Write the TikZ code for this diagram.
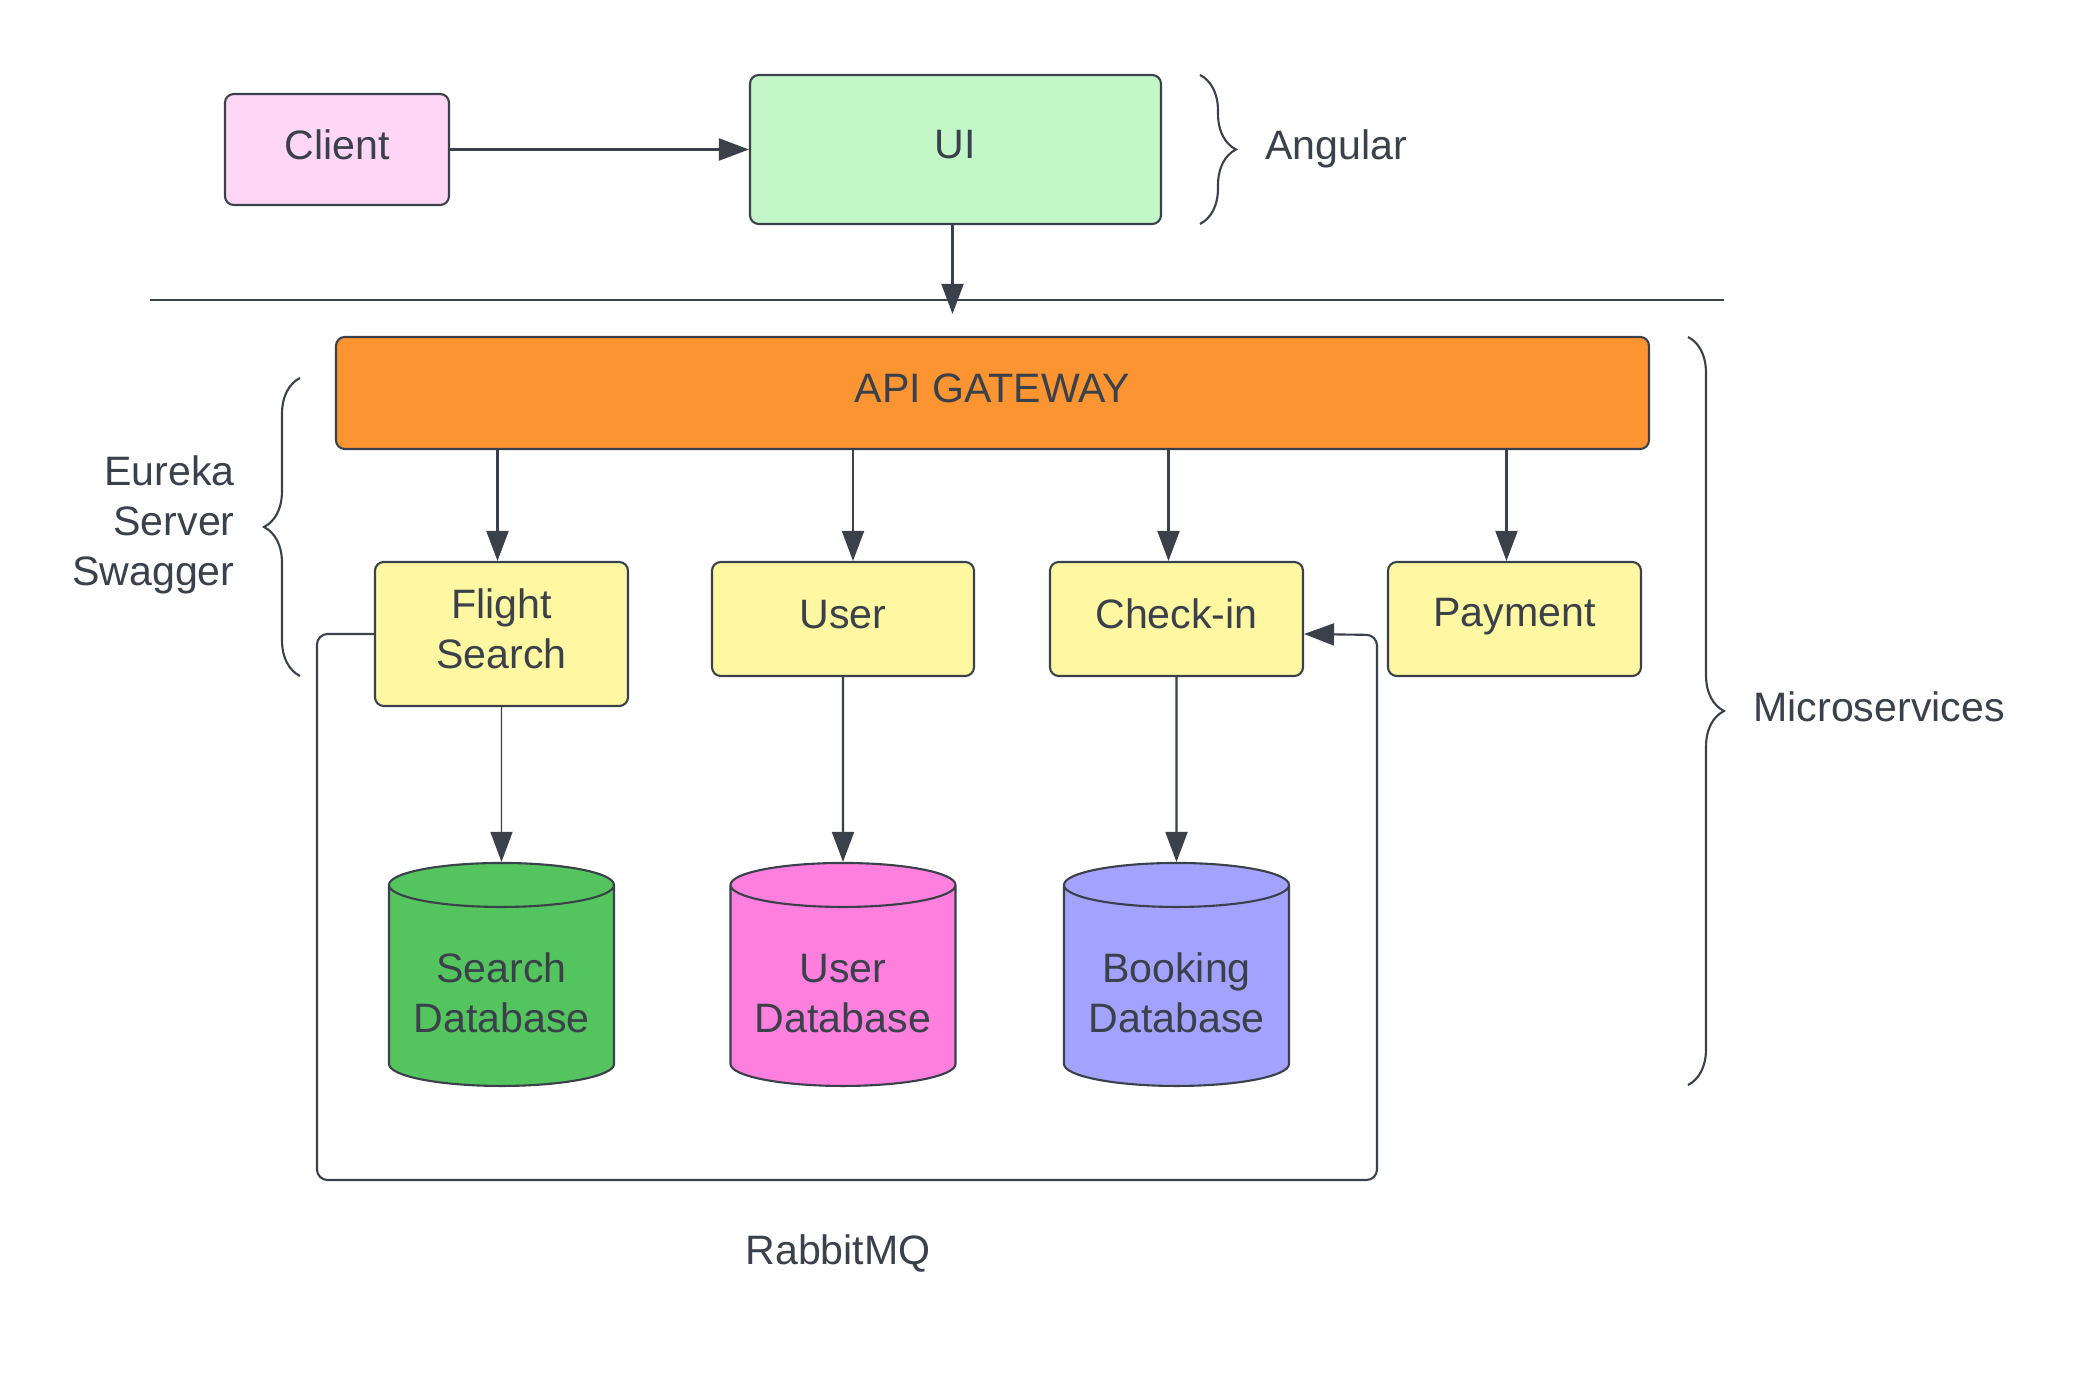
\documentclass[tikz,border=0pt]{standalone}
\usepackage{fontspec}
\setmainfont{Liberation Sans}
\usepackage{xcolor}
\usetikzlibrary{calc,positioning,arrows.meta,shapes.geometric,decorations.pathreplacing}

\definecolor{ink}{HTML}{3A414A}
\definecolor{clientpink}{HTML}{FFD6F5}
\definecolor{uigreen}{HTML}{C3F7C8}
\definecolor{gworange}{HTML}{FC9432}
\definecolor{svcyellow}{HTML}{FFF7A1}
\definecolor{dbgreen}{HTML}{54C45E}
\definecolor{dbpink}{HTML}{FF7FDE}
\definecolor{dbblue}{HTML}{A3A3FF}

\begin{document}
\begin{tikzpicture}[font=\fontsize{11.7}{14.2}\selectfont, text=ink]
\tikzstyle{box}=[draw=ink, rounded corners=2.5pt, line width=0.6pt, align=center, inner sep=0pt, text depth=0.1cm]
\tikzstyle{svc}=[box, fill=svcyellow, minimum width=2.53cm, minimum height=1.14cm]
\tikzstyle{db}=[draw=ink, cylinder, shape border rotate=90, aspect=0.25, minimum width=2.25cm, minimum height=2.23cm, line width=0.6pt, align=center, inner sep=0pt, text height=0.93cm]
\tikzstyle{arr}=[draw=ink, line width=0.6pt, -{Triangle[length=0.3cm,width=0.22cm]}]
\tikzstyle{brc}=[draw=ink, line width=0.6pt, decorate, decoration={brace, amplitude=0.36cm}]

\useasboundingbox (0,0) rectangle (21,13.88);

% top layer
\node[box, fill=clientpink, minimum width=2.24cm, minimum height=1.11cm] (client) at (3.37,12.385) {Client};
\node[box, fill=uigreen, minimum width=4.11cm, minimum height=1.49cm] (ui) at (9.555,12.385) {UI};
\draw[arr] (client) -- (ui);
\draw[brc] (12.0,13.13) -- (12.0,11.64);
\node[anchor=west] (angular) at (12.53,12.39) {Angular};

% separator
\coordinate (sepL) at (1.50,10.88);
\coordinate (sepR) at (17.24,10.88);
\draw[ink, line width=0.6pt] (sepL) -- (sepR);

% gateway and services
\node[box, fill=gworange, minimum width=13.13cm, minimum height=1.12cm] (gw) at (9.925,9.95) {API GATEWAY};
\draw[arr, shorten >=0.22cm] ([xshift=-0.03cm]ui.south) -- ([xshift=-0.03cm]ui.south |- gw.north);

\node[svc, minimum height=1.44cm] (fs) at (5.015,7.54) {Flight\\Search};
\node[svc, minimum width=2.62cm] (user) at (8.43,7.69) {User};
\node[svc] (ci) at (11.765,7.69) {Check-in};
\node[svc, text depth=0.14cm] (pay) at (15.145,7.69) {Payment};

\draw[arr] ([xshift=-0.04cm]fs.north |- gw.south) -- ([xshift=-0.04cm]fs.north);
\draw[arr] ([xshift=0.10cm]user.north |- gw.south) -- ([xshift=0.10cm]user.north);
\draw[arr] ([xshift=-0.08cm]ci.north |- gw.south) -- ([xshift=-0.08cm]ci.north);
\draw[arr] ([xshift=-0.08cm]pay.north |- gw.south) -- ([xshift=-0.08cm]pay.north);

% databases
\node[db, fill=dbgreen] (sdb) at (5.015,4.02) {Search\\Database};
\node[db, fill=dbpink] (udb) at (8.43,4.02) {User\\Database};
\node[db, fill=dbblue] (bdb) at (11.765,4.02) {Booking\\Database};

\draw[arr, line width=0.35pt] (fs.south) -- (sdb.north);
\draw[arr] (user.south) -- (udb.north);
\draw[arr] (ci.south) -- (bdb.north);

% message queue loop
\draw[arr, rounded corners=3pt] (fs.west) -| (3.17,2.08) -| (13.77,7.53) -- (ci.east |- fs.west);
\node (rmq) at (8.38,1.35) {RabbitMQ};

% side braces
\draw[brc] (16.88,10.51) -- (16.88,3.03);
\node[anchor=west] (micro) at (17.41,6.81) {Microservices};
\draw[brc] (3.00,7.12) -- (3.00,10.10);
\node[anchor=east, align=right] (eureka) at (2.47,8.63) {Eureka\\Server\\Swagger};
\end{tikzpicture}
\end{document}
